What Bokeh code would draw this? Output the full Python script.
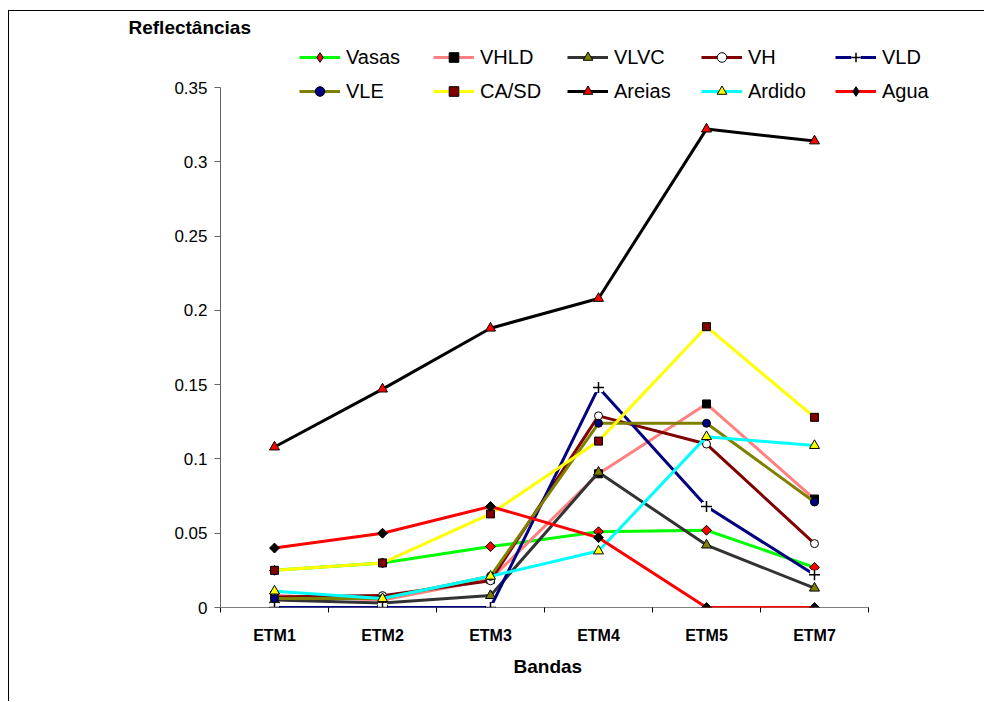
import math
from bokeh.plotting import figure
from bokeh.models import (Range1d, FixedTicker, Legend, LegendItem, LinearAxis,
                          CustomJSTickFormatter, Title)
from bokeh.embed import file_html
from bokeh.resources import INLINE

# ---------------- data ----------------
bandas = ["ETM1", "ETM2", "ETM3", "ETM4", "ETM5", "ETM7"]

vasas = [0.025, 0.030, 0.041, 0.051, 0.052, 0.027]
vhld = [0.008, 0.005, 0.019, 0.090, 0.137, 0.073]
vlvc = [0.005, 0.003, 0.008, 0.091, 0.042, 0.013]
vh = [0.007, 0.008, 0.018, 0.129, 0.110, 0.043]
vld = [0.0, 0.0, 0.0, 0.148, 0.068, 0.022]
vle = [0.006, 0.006, 0.021, 0.124, 0.124, 0.071]
casd = [0.025, 0.030, 0.063, 0.112, 0.189, 0.128]
areias = [0.108, 0.147, 0.188, 0.208, 0.322, 0.314]
ardido = [0.011, 0.006, 0.021, 0.038, 0.115, 0.109]
agua = [0.040, 0.050, 0.068, 0.047, 0.0, 0.0]

series_names = ["Vasas", "VHLD", "VLVC", "VH", "VLD", "VLE", "CA/SD", "Areias", "Ardido", "Agua"]
series_values = [vasas, vhld, vlvc, vh, vld, vle, casd, areias, ardido, agua]

y_ticks = [0, 0.05, 0.1, 0.15, 0.2, 0.25, 0.3, 0.35]
y_tick_labels = ["0", "0.05", "0.1", "0.15", "0.2", "0.25", "0.3", "0.35"]

# ---------------- styles ----------------
# (line colour, marker, marker fill, marker line, marker size)
styles = {
    "Vasas": ("#00FF00", "diamond", "#FF0000", "#000000", 7),
    "VHLD": ("#FF8080", "square", "#000000", "#000000", 8),
    "VLVC": ("#333333", "triangle", "#808000", "#000000", 10),
    "VH": ("#800000", "circle", "#FFFFFF", "#000000", 8),
    "VLD": ("#000080", "cross", None, "#000000", 11),
    "VLE": ("#808000", "circle", "#000080", "#000000", 8),
    "CA/SD": ("#FFFF00", "square", "#800000", "#000000", 8),
    "Areias": ("#000000", "triangle", "#FF0000", "#000000", 10),
    "Ardido": ("#00FFFF", "triangle", "#FFFF00", "#000000", 10),
    "Agua": ("#FF0000", "diamond", "#000000", "#000000", 7),
}

FONT = "Liberation Sans"

W, H = 976, 691          # canvas, placed 9px right / 11px down by the css border+margin
FL, FT, FB = 211, 26, 596  # frame left, top, bottom (canvas px)
Y035 = 76                # pixel row of 0.35
X_AXIS_END = 859         # pixel col where the category axis ends

y_end = 0.35 * (FB - FT) / (FB - Y035)
x_end = len(bandas) * (W - FL) / (X_AXIS_END - FL)

p = figure(width=W, height=H, output_backend="svg", toolbar_location=None,
           x_range=Range1d(0, x_end), y_range=Range1d(0, y_end),
           min_border_left=FL, min_border_right=0, min_border_top=FT,
           min_border_bottom=H - FB)
p.styles = {"margin-left": "8px", "margin-top": "10px",
            "border-left": "1px solid black", "border-top": "1px solid black"}
p.outline_line_color = None
p.xgrid.visible = False
p.ygrid.visible = False
p.background_fill_color = "white"
p.border_fill_color = "white"

p.title.text = "Reflectâncias"
p.title.align = "left"
p.title.offset = -92
p.title.standoff = 0
p.title.text_font = FONT
p.title.text_font_style = "bold"
p.title.text_font_size = "19px"
p.title.text_color = "black"

xs = [i + 0.5 for i in range(len(bandas))]

# x axis line only (drawn beneath the series)
xa = p.xaxis[0]
xa.level = "underlay"
xa.bounds = (0, len(bandas))
xa.ticker = FixedTicker(ticks=[], minor_ticks=[])
xa.major_tick_line_color = None
xa.minor_tick_line_color = None
xa.major_tick_out = 0
xa.minor_tick_out = 0
xa.major_label_text_font_size = "0px"
xa.major_label_standoff = 0
xa.axis_line_color = "black"

# x axis ticks and labels
xb = LinearAxis()
xb.bounds = (0, len(bandas))
xb.axis_line_color = None
xb.ticker = FixedTicker(ticks=xs, minor_ticks=list(range(len(bandas) + 1)))
xb.formatter = CustomJSTickFormatter(args=dict(names=bandas),
                                     code="return names[Math.floor(tick)] || '';")
xb.major_tick_line_color = None
xb.major_tick_out = 0
xb.major_tick_in = 0
xb.minor_tick_line_color = "black"
xb.minor_tick_out = 5
xb.minor_tick_in = 0
xb.major_label_text_font = FONT
xb.major_label_text_font_style = "bold"
xb.major_label_text_font_size = "16px"
xb.major_label_text_color = "black"
xb.major_label_standoff = 14
p.add_layout(xb, "below")

# x axis title, centred under the category axis
xt = Title(text="Bandas", align="left", offset=293, standoff=15,
           text_font=FONT, text_font_style="bold", text_font_size="19px",
           text_color="black")
p.add_layout(xt, "below")

# y axis
ya = p.yaxis[0]
ya.ticker = FixedTicker(ticks=y_ticks, minor_ticks=[])
ya.formatter = CustomJSTickFormatter(args=dict(labels=y_tick_labels),
                                     code="return labels[index];")
ya.bounds = (0, 0.35)
ya.axis_line_color = "#666666"
ya.major_tick_line_color = "#666666"
ya.major_tick_out = 6
ya.major_tick_in = 0
ya.minor_tick_line_color = None
ya.major_label_text_font = FONT
ya.major_label_text_font_size = "17px"
ya.major_label_text_color = "black"
ya.major_label_standoff = 7

items = []
for name, vals in zip(series_names, series_values):
    lc, mk, mf, ml, ms = styles[name]
    rs = []
    r_line = p.line(xs, vals, line_color=lc, line_width=3)
    rs.append(r_line)
    if mk == "cross":
        r_bg = p.scatter(xs, vals, marker="square", size=9, fill_color="white",
                         line_color=None)
        rs.append(r_bg)
        r_m = p.scatter(xs, vals, marker="cross", size=ms, line_color=ml, line_width=1.5)
        rs.append(r_m)
    elif mk == "diamond":
        # legend-only diamond (size 0 in the plot; the legend sizes its own glyph)
        r_leg = p.scatter(xs, vals, marker="diamond", size=0, fill_color=mf,
                          line_color=ml, line_width=1)
        rs.append(r_leg)
        # plotted as a square turned by 45 degrees
        p.scatter(xs, vals, marker="square", size=ms, fill_color=mf,
                  line_color=ml, line_width=1, angle=math.pi / 4)
    else:
        r_m = p.scatter(xs, vals, marker=mk, size=ms, fill_color=mf,
                        line_color=ml, line_width=1)
        rs.append(r_m)
    items.append(LegendItem(label=name, renderers=rs))

legend = Legend(items=items, location=(79, 504), orientation="horizontal", ncols=5,
                glyph_width=41, glyph_height=24, label_width=77, label_height=24,
                spacing=10, label_standoff=6, padding=0, margin=0,
                border_line_color=None, background_fill_alpha=0,
                label_text_font=FONT, label_text_font_size="20px",
                label_text_color="black")
p.add_layout(legend)

open("out.html", "w").write(file_html(p, INLINE))
